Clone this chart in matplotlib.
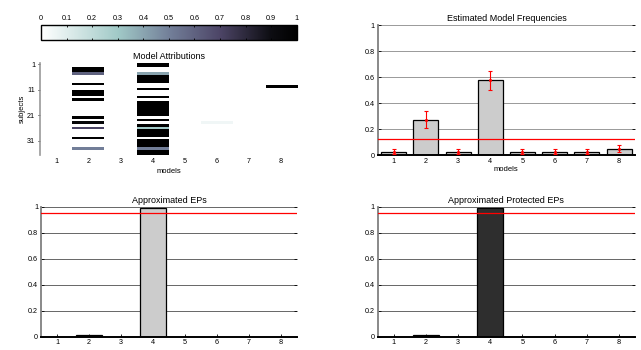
import matplotlib
matplotlib.use("Agg")
import matplotlib.pyplot as plt
import numpy as np
from matplotlib.colors import LinearSegmentedColormap

plt.rcParams['font.family'] = ['Liberation Sans', 'DejaVu Sans']

models = [1, 2, 3, 4, 5, 6, 7, 8]
n_subjects = 36

# posterior attributions per model (36 subjects each)
attr_m1 = [0] * 36
attr_m2 = [0, 0, 1, 1, 0.6, 0, 0, 0, 1, 0, 0, 1, 1, 0, 1, 0, 0, 0,
           0, 0, 0, 1, 0, 0.95, 0, 0.7, 0, 0, 0, 1, 0, 0, 0, 0.5, 0, 0]
attr_m3 = [0] * 36
attr_m4 = [1, 1, 0, 0, 0.4, 1, 1, 1, 0, 0, 1, 0, 0, 1, 0, 1, 1, 1,
           1, 1, 1, 0, 1, 0, 1, 0.3, 1, 1, 1, 0, 1, 1, 1, 0.5, 1, 1]
attr_m5 = [0] * 36
attr_m6 = [0] * 23 + [0.05] + [0] * 12
attr_m7 = [0] * 36
attr_m8 = [0] * 9 + [1] + [0] * 26

freq = [0.025, 0.27, 0.025, 0.575, 0.025, 0.025, 0.025, 0.048]
freq_lo = [0.005, 0.205, 0.005, 0.50, 0.005, 0.005, 0.005, 0.02]
freq_hi = [0.045, 0.34, 0.045, 0.65, 0.045, 0.045, 0.045, 0.08]
chance = 0.125

ep = [0.0, 0.015, 0.0, 0.99, 0.0, 0.0, 0.0, 0.0]
pep = [0.0, 0.015, 0.0, 0.99, 0.0, 0.0, 0.0, 0.0]
ep_thresh = 0.95

cmap = LinearSegmentedColormap.from_list("attr", [
    (0.0, (1.0, 1.0, 1.0)),
    (0.3, (0.63, 0.79, 0.78)),
    (0.5, (0.45, 0.50, 0.60)),
    (0.7, (0.30, 0.27, 0.40)),
    (0.9, (0.05, 0.05, 0.07)),
    (1.0, (0.0, 0.0, 0.0)),
])

fig = plt.figure(figsize=(6.41, 3.5), dpi=100)
tick_fs = 5.2
title_fs = 6.5


def style_bar_axes(ax, grid_col):
    ax.set_xlim(0.5, 8.5)
    ax.set_ylim(0, 1)
    ax.set_xticks(models)
    ax.set_yticks([0, 0.2, 0.4, 0.6, 0.8, 1])
    ax.set_yticklabels(['0', '0.2', '0.4', '0.6', '0.8', '1'])
    ax.tick_params(labelsize=tick_fs, direction='in', length=2, width=0.6,
                   right=True, pad=2)
    ax.grid(axis='y', color=grid_col, linewidth=0.7)
    ax.set_axisbelow(True)
    ax.spines['top'].set_visible(False)
    ax.spines['right'].set_visible(False)
    ax.spines['left'].set_color('0.5')
    ax.spines['left'].set_linewidth(1.3)
    ax.spines['bottom'].set_color('black')
    ax.spines['bottom'].set_linewidth(1.4)


# attributions
attr = np.array([attr_m1, attr_m2, attr_m3, attr_m4,
                 attr_m5, attr_m6, attr_m7, attr_m8]).T
ax1 = fig.add_axes([0.0624, 0.557, 0.401, 0.263])
im = ax1.imshow(attr, cmap=cmap, vmin=0, vmax=1, aspect='auto',
                interpolation='nearest',
                extent=(0.5, 8.5, n_subjects + 0.5, 0.5))
ax1.set_xticks(models)
ax1.set_yticks([1, 11, 21, 31])
ax1.tick_params(labelsize=tick_fs, length=1.5, width=0.6, pad=2)
ax1.tick_params(axis='x', length=0)
for s in ['top', 'right', 'bottom']:
    ax1.spines[s].set_visible(False)
ax1.spines['left'].set_color('0.6')
ax1.spines['left'].set_linewidth(1.2)
ax1.set_title("Model Attributions", fontsize=title_fs, pad=3)
ax1.set_xlabel("models", fontsize=tick_fs + 0.3, labelpad=2)
ax1.set_ylabel("subjects", fontsize=tick_fs + 0.3, labelpad=1)

cax = fig.add_axes([0.064, 0.886, 0.399, 0.043])
cb = fig.colorbar(im, cax=cax, orientation='horizontal')
cb.set_ticks(np.round(np.arange(0, 1.01, 0.1), 1))
cb.set_ticklabels(['0', '0.1', '0.2', '0.3', '0.4', '0.5', '0.6', '0.7',
                   '0.8', '0.9', '1'])
cax.xaxis.set_ticks_position('both')
cax.xaxis.set_label_position('top')
cax.tick_params(labelsize=tick_fs, direction='in', length=1.5, width=0.6,
                labeltop=True, labelbottom=False, pad=2)
cb.outline.set_linewidth(1.0)

# frequencies
ax2 = fig.add_axes([0.589, 0.557, 0.402, 0.371])
style_bar_axes(ax2, '0.6')
ax2.bar(models, freq, width=0.78, color='0.8', edgecolor='black',
        linewidth=0.9, zorder=2)
yerr = [np.array(freq) - np.array(freq_lo), np.array(freq_hi) - np.array(freq)]
ax2.errorbar(models, freq, yerr=yerr, fmt='.', color='red', ecolor='red',
             markersize=2.5, elinewidth=0.8, capsize=1.6, capthick=0.8,
             zorder=4)
ax2.axhline(chance, color='red', linewidth=0.9, zorder=3)
ax2.set_title("Estimated Model Frequencies", fontsize=title_fs, pad=3)
ax2.set_xlabel("models", fontsize=tick_fs + 0.3, labelpad=1)

# exceedance probabilities
ax3 = fig.add_axes([0.064, 0.038, 0.399, 0.371])
style_bar_axes(ax3, '0.4')
ep_colors = ['0.8' if v > 0.5 else '0.4' for v in ep]
ax3.bar(models, ep, width=0.8, color=ep_colors, edgecolor='black',
        linewidth=0.9, zorder=2)
ax3.axhline(ep_thresh, color='red', linewidth=0.9, zorder=3)
ax3.set_title("Approximated EPs", fontsize=title_fs, pad=3)

ax4 = fig.add_axes([0.589, 0.038, 0.402, 0.371])
style_bar_axes(ax4, '0.4')
ax4.bar(models, pep, width=0.8, color='0.18', edgecolor='black',
        linewidth=0.9, zorder=2)
ax4.axhline(ep_thresh, color='red', linewidth=0.9, zorder=3)
ax4.set_title("Approximated Protected EPs", fontsize=title_fs, pad=3)

fig.savefig("out.png", dpi=100)
